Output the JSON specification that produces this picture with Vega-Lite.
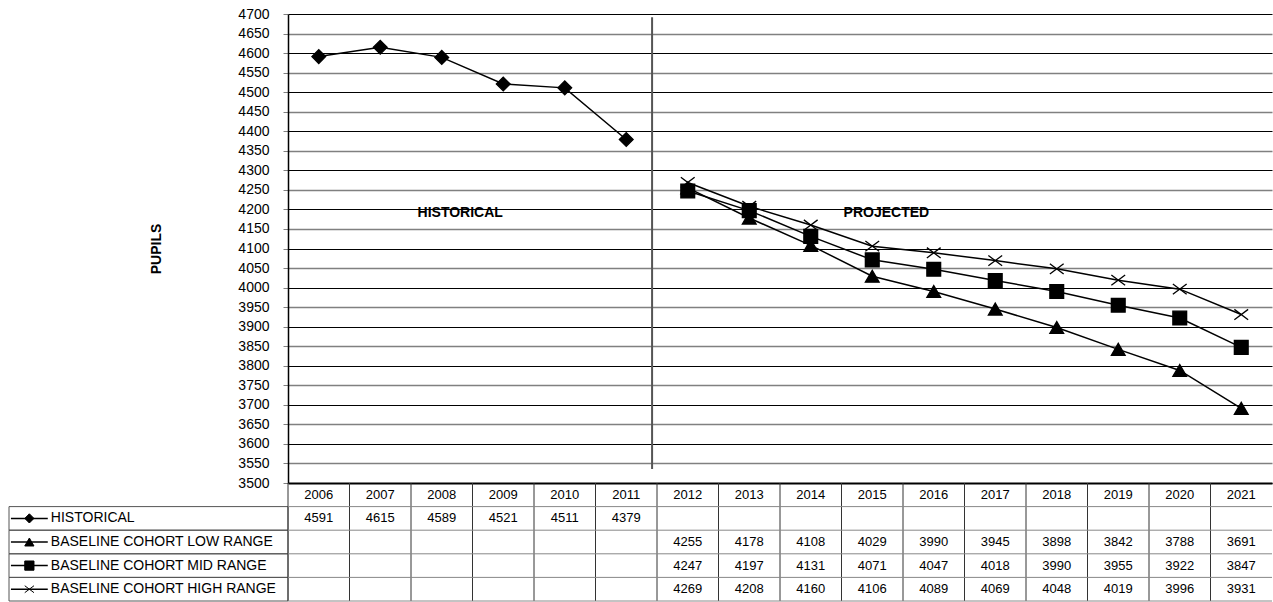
{
  "$schema": "https://vega.github.io/schema/vega-lite/v6.json",
  "padding": {"left": 8, "top": 7, "right": 0, "bottom": 0},
  "background": "white",
  "config": {
    "view": {"stroke": null},
    "font": "Liberation Sans",
    "axis": {"labelFont": "Liberation Sans", "titleFont": "Liberation Sans"}
  },
  "datasets": {
    "pupils": [
      {"year": 2006, "HISTORICAL": 4591, "BASELINE COHORT LOW RANGE": null, "BASELINE COHORT MID RANGE": null, "BASELINE COHORT HIGH RANGE": null},
      {"year": 2007, "HISTORICAL": 4615, "BASELINE COHORT LOW RANGE": null, "BASELINE COHORT MID RANGE": null, "BASELINE COHORT HIGH RANGE": null},
      {"year": 2008, "HISTORICAL": 4589, "BASELINE COHORT LOW RANGE": null, "BASELINE COHORT MID RANGE": null, "BASELINE COHORT HIGH RANGE": null},
      {"year": 2009, "HISTORICAL": 4521, "BASELINE COHORT LOW RANGE": null, "BASELINE COHORT MID RANGE": null, "BASELINE COHORT HIGH RANGE": null},
      {"year": 2010, "HISTORICAL": 4511, "BASELINE COHORT LOW RANGE": null, "BASELINE COHORT MID RANGE": null, "BASELINE COHORT HIGH RANGE": null},
      {"year": 2011, "HISTORICAL": 4379, "BASELINE COHORT LOW RANGE": null, "BASELINE COHORT MID RANGE": null, "BASELINE COHORT HIGH RANGE": null},
      {"year": 2012, "HISTORICAL": null, "BASELINE COHORT LOW RANGE": 4255, "BASELINE COHORT MID RANGE": 4247, "BASELINE COHORT HIGH RANGE": 4269},
      {"year": 2013, "HISTORICAL": null, "BASELINE COHORT LOW RANGE": 4178, "BASELINE COHORT MID RANGE": 4197, "BASELINE COHORT HIGH RANGE": 4208},
      {"year": 2014, "HISTORICAL": null, "BASELINE COHORT LOW RANGE": 4108, "BASELINE COHORT MID RANGE": 4131, "BASELINE COHORT HIGH RANGE": 4160},
      {"year": 2015, "HISTORICAL": null, "BASELINE COHORT LOW RANGE": 4029, "BASELINE COHORT MID RANGE": 4071, "BASELINE COHORT HIGH RANGE": 4106},
      {"year": 2016, "HISTORICAL": null, "BASELINE COHORT LOW RANGE": 3990, "BASELINE COHORT MID RANGE": 4047, "BASELINE COHORT HIGH RANGE": 4089},
      {"year": 2017, "HISTORICAL": null, "BASELINE COHORT LOW RANGE": 3945, "BASELINE COHORT MID RANGE": 4018, "BASELINE COHORT HIGH RANGE": 4069},
      {"year": 2018, "HISTORICAL": null, "BASELINE COHORT LOW RANGE": 3898, "BASELINE COHORT MID RANGE": 3990, "BASELINE COHORT HIGH RANGE": 4048},
      {"year": 2019, "HISTORICAL": null, "BASELINE COHORT LOW RANGE": 3842, "BASELINE COHORT MID RANGE": 3955, "BASELINE COHORT HIGH RANGE": 4019},
      {"year": 2020, "HISTORICAL": null, "BASELINE COHORT LOW RANGE": 3788, "BASELINE COHORT MID RANGE": 3922, "BASELINE COHORT HIGH RANGE": 3996},
      {"year": 2021, "HISTORICAL": null, "BASELINE COHORT LOW RANGE": 3691, "BASELINE COHORT MID RANGE": 3847, "BASELINE COHORT HIGH RANGE": 3931}
    ]
  },
  "columns": 2,
  "spacing": 0,
  "bounds": "flush",
  "align": "each",
  "concat": [
    {
      "width": 279,
      "height": 469,
      "data": {"values": [{}]},
      "mark": {"type": "text", "text": ""},
      "encoding": {}
    },
    {
      "width": 984,
      "height": 469,
      "data": {"name": "pupils"},
      "transform": [
        {"fold": ["HISTORICAL", "BASELINE COHORT LOW RANGE", "BASELINE COHORT MID RANGE", "BASELINE COHORT HIGH RANGE"], "as": ["series", "pupils"]}
      ],
      "layer": [
        {
          "transform": [{"filter": "isValid(datum.pupils)"}],
          "mark": {"type": "line", "color": "black", "strokeWidth": 1.5},
          "encoding": {
            "x": {
              "field": "year", "type": "ordinal", "bandPosition": 0.5,
              "scale": {"type": "band", "domain": [2006, 2007, 2008, 2009, 2010, 2011, 2012, 2013, 2014, 2015, 2016, 2017, 2018, 2019, 2020, 2021], "paddingInner": 0, "paddingOuter": 0},
              "axis": {"labels": false, "ticks": false, "title": null, "grid": false, "domainColor": "black", "domainWidth": 2}
            },
            "y": {
              "field": "pupils", "type": "quantitative",
              "scale": {"domain": [3500, 4700], "nice": false, "zero": false},
              "axis": {
                "title": "PUPILS",
                "titleFontWeight": "bold",
                "titleFontSize": 14,
                "titleColor": "black",
                "titlePadding": 74,
                "values": [3500, 3550, 3600, 3650, 3700, 3750, 3800, 3850, 3900, 3950, 4000, 4050, 4100, 4150, 4200, 4250, 4300, 4350, 4400, 4450, 4500, 4550, 4600, 4650, 4700],
                "tickCount": 40,
                "format": "d",
                "labelOverlap": false,
                "labelFontSize": 14,
                "labelColor": "black",
                "labelPadding": 14,
                "tickSize": 5,
                "tickColor": "#808080",
                "domainColor": "black",
                "domainWidth": 1.5,
                "grid": true,
                "gridColor": {"condition": {"test": "datum.value % 100 === 0", "value": "black"}, "value": "#808080"},
                "gridWidth": {"condition": {"test": "datum.value % 100 === 0", "value": 1}, "value": 1.5},
                "gridOpacity": 1
              }
            },
            "detail": {"field": "series", "type": "nominal"}
          }
        },
        {
          "transform": [{"filter": "isValid(datum.pupils)"}],
          "mark": {"type": "point", "filled": true, "color": "black", "stroke": "black", "strokeWidth": 1.3, "size": 190, "opacity": 1},
          "encoding": {
            "x": {"field": "year", "type": "ordinal", "bandPosition": 0.5},
            "y": {"field": "pupils", "type": "quantitative"},
            "shape": {
              "field": "series", "type": "nominal",
              "scale": {
                "domain": ["HISTORICAL", "BASELINE COHORT LOW RANGE", "BASELINE COHORT MID RANGE", "BASELINE COHORT HIGH RANGE"],
                "range": ["diamond", "triangle-up", "square", "M-1,-0.75L1,0.75M-1,0.75L1,-0.75"]
              },
              "legend": null
            }
          }
        },
        {
          "data": {"values": [{}]},
          "mark": {"type": "rule", "color": "#555555", "strokeWidth": 2},
          "encoding": {
            "x": {"datum": 2011, "type": "ordinal", "bandPosition": 0.92},
            "y": {"datum": 4692, "type": "quantitative"},
            "y2": {"datum": 3536}
          }
        },
        {
          "data": {"values": [{}]},
          "mark": {"type": "text", "text": "HISTORICAL", "fontWeight": "bold", "fontSize": 14, "align": "center", "baseline": "middle", "color": "black"},
          "encoding": {
            "x": {"datum": 2008, "type": "ordinal", "bandPosition": 0.8},
            "y": {"datum": 4190, "type": "quantitative"}
          }
        },
        {
          "data": {"values": [{}]},
          "mark": {"type": "text", "text": "PROJECTED", "fontWeight": "bold", "fontSize": 14, "align": "center", "baseline": "middle", "color": "black"},
          "encoding": {
            "x": {"datum": 2015, "type": "ordinal", "bandPosition": 0.73},
            "y": {"datum": 4190, "type": "quantitative"}
          }
        }
      ]
    },
    {
      "width": 279,
      "height": 118,
      "data": {"name": "pupils"},
      "transform": [
        {"fold": ["HISTORICAL", "BASELINE COHORT LOW RANGE", "BASELINE COHORT MID RANGE", "BASELINE COHORT HIGH RANGE"], "as": ["series", "pupils"]},
        {"aggregate": [{"op": "count", "as": "n"}], "groupby": ["series"]}
      ],
      "layer": [
        {
          "mark": {"type": "rect", "filled": false, "stroke": "#555555", "strokeWidth": 1},
          "encoding": {
            "x": {"datum": 0, "type": "quantitative", "scale": {"domain": [0, 1], "nice": false, "zero": false}, "axis": null},
            "x2": {"datum": 1},
            "y": {
              "field": "series", "type": "nominal",
              "scale": {"type": "band", "domain": ["header", "HISTORICAL", "BASELINE COHORT LOW RANGE", "BASELINE COHORT MID RANGE", "BASELINE COHORT HIGH RANGE"], "paddingInner": 0, "paddingOuter": 0},
              "axis": null
            }
          }
        },
        {
          "mark": {"type": "rule", "color": "black", "strokeWidth": 1.5},
          "encoding": {
            "x": {"datum": 0.007, "type": "quantitative"},
            "x2": {"datum": 0.139},
            "y": {"field": "series", "type": "nominal", "bandPosition": 0.5}
          }
        },
        {
          "mark": {"type": "point", "filled": true, "color": "black", "stroke": "black", "strokeWidth": 1, "size": 85, "opacity": 1},
          "encoding": {
            "x": {"datum": 0.073, "type": "quantitative"},
            "y": {"field": "series", "type": "nominal", "bandPosition": 0.5},
            "shape": {
              "field": "series", "type": "nominal",
              "scale": {
                "domain": ["HISTORICAL", "BASELINE COHORT LOW RANGE", "BASELINE COHORT MID RANGE", "BASELINE COHORT HIGH RANGE"],
                "range": ["diamond", "triangle-up", "square", "M-1,-0.75L1,0.75M-1,0.75L1,-0.75"]
              },
              "legend": null
            }
          }
        },
        {
          "mark": {"type": "text", "align": "left", "baseline": "middle", "fontSize": 14, "color": "black"},
          "encoding": {
            "x": {"datum": 0.15, "type": "quantitative"},
            "y": {"field": "series", "type": "nominal", "bandPosition": 0.5},
            "text": {"field": "series", "type": "nominal"}
          }
        }
      ]
    },
    {
      "width": 984,
      "height": 118,
      "data": {"name": "pupils"},
      "layer": [
        {
          "mark": {"type": "rule", "color": "#333333", "strokeWidth": 1},
          "encoding": {
            "x": {
              "field": "year", "type": "ordinal", "bandPosition": 0,
              "scale": {"type": "band", "domain": [2006, 2007, 2008, 2009, 2010, 2011, 2012, 2013, 2014, 2015, 2016, 2017, 2018, 2019, 2020, 2021], "paddingInner": 0, "paddingOuter": 0},
              "axis": null
            }
          }
        },
        {
          "transform": [
            {"fold": ["HISTORICAL", "BASELINE COHORT LOW RANGE", "BASELINE COHORT MID RANGE", "BASELINE COHORT HIGH RANGE"], "as": ["series", "pupils"]},
            {"aggregate": [{"op": "count", "as": "n"}], "groupby": ["series"]}
          ],
          "mark": {"type": "rule", "color": "#888888", "strokeWidth": 1},
          "encoding": {
            "y": {
              "field": "series", "type": "nominal", "bandPosition": 0,
              "scale": {"type": "band", "domain": ["header", "HISTORICAL", "BASELINE COHORT LOW RANGE", "BASELINE COHORT MID RANGE", "BASELINE COHORT HIGH RANGE"], "paddingInner": 0, "paddingOuter": 0},
              "axis": null
            }
          }
        },
        {
          "data": {"values": [{}]},
          "mark": {"type": "rule", "color": "#888888", "strokeWidth": 1},
          "encoding": {
            "y": {"datum": "BASELINE COHORT HIGH RANGE", "type": "nominal", "bandPosition": 1}
          }
        },
        {
          "mark": {"type": "text", "fontSize": 13, "align": "center", "baseline": "middle", "color": "black"},
          "encoding": {
            "x": {"field": "year", "type": "ordinal", "bandPosition": 0.5},
            "y": {"datum": "header", "type": "nominal", "bandPosition": 0.5},
            "text": {"field": "year", "type": "nominal"}
          }
        },
        {
          "transform": [
            {"fold": ["HISTORICAL", "BASELINE COHORT LOW RANGE", "BASELINE COHORT MID RANGE", "BASELINE COHORT HIGH RANGE"], "as": ["series", "pupils"]},
            {"filter": "isValid(datum.pupils)"}
          ],
          "mark": {"type": "text", "fontSize": 13, "align": "center", "baseline": "middle", "color": "black"},
          "encoding": {
            "x": {"field": "year", "type": "ordinal", "bandPosition": 0.5},
            "y": {"field": "series", "type": "nominal", "bandPosition": 0.5},
            "text": {"field": "pupils", "type": "quantitative", "format": "d"}
          }
        }
      ]
    }
  ]
}
